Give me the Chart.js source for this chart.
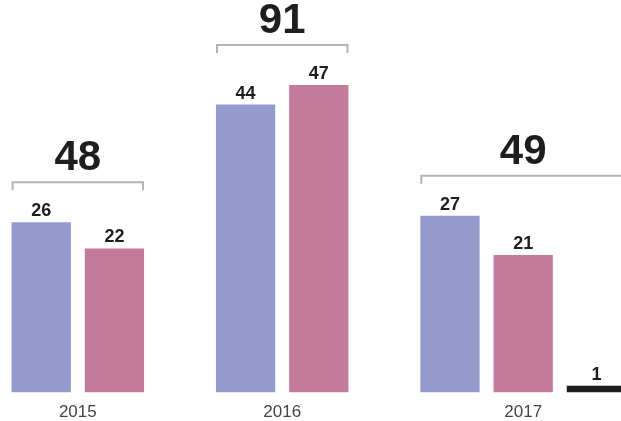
<!DOCTYPE html>
<html>
<head>
<meta charset="utf-8">
<script src="https://cdn.jsdelivr.net/npm/chart.js@4.4.0/dist/chart.umd.min.js"></script>
<style>
  html, body { margin: 0; padding: 0; background: #fff; }
  #wrap { width: 621px; height: 421px; }
</style>
</head>
<body>
<div id="wrap"><canvas id="chart"></canvas></div>
<script>
// data
const years = ['2015', '2016', '2017'];
const blueValues = [26, 44, 27];
const pinkValues = [22, 47, 21];
const blackValues = [null, null, 1];
const totals = [48, 91, 49];

// layout in px: every bar gets its own small x axis, axes laid side by side
const slotWidth = 73.2;
const leftPad = 4.6;
const groupGap = 58;
const chartWidth = 621;

const series = [
    { values: blueValues, color: '#939bcc' },
    { values: pinkValues, color: '#c47b9b' },
    { values: blackValues, color: '#1e1e1e' }
];
const barPercentage = 0.81;

const scales = {
    y: { display: false, min: 0, max: 60 }
};

const hiddenAxis = (labels) => ({
    type: 'category', labels: labels, position: 'bottom', display: false
});

// put axes of one row next to each other, with empty axes in the holes
function addRow(stack, items) {
    let x = 0;
    items.forEach((it, n) => {
        if (it.from > x) {
            scales[stack + 'pad' + n] = Object.assign(hiddenAxis(['']), { stack: stack, stackWeight: it.from - x });
        }
        scales[it.id] = Object.assign(it.axis, { stack: stack, stackWeight: it.to - it.from });
        x = it.to;
    });
    if (x < chartWidth) {
        scales[stack + 'end'] = Object.assign(hiddenAxis(['']), { stack: stack, stackWeight: chartWidth - x });
    }
}

const datasets = [];
const barItems = [];
const yearItems = [];
let x = 0;

years.forEach((year, g) => {
    x += g === 0 ? leftPad : groupGap;
    const start = x;
    series.forEach((s, k) => {
        if (s.values[g] === null) return;
        let from = x, to = x + slotWidth, bp = barPercentage;
        if (to > chartWidth) { // last bar runs off the right edge
            const cut = to - chartWidth;
            from += cut;
            to -= cut;
            bp = barPercentage * slotWidth / (to - from);
        }
        const id = 'b' + g + k;
        barItems.push({ id: id, from: from, to: to, axis: hiddenAxis([year]) });
        datasets.push({
            data: [s.values[g]],
            group: g,
            xAxisID: id,
            backgroundColor: s.color,
            borderWidth: 0,
            grouped: false,
            categoryPercentage: 1,
            barPercentage: bp,
            clip: false
        });
        x += slotWidth;
    });
    const center = (start + x) / 2;
    const half = Math.min((x - start) / 2, chartWidth - center);
    yearItems.push({
        id: 'x' + g,
        from: center - half,
        to: center + half,
        axis: {
            type: 'category',
            labels: [year],
            position: 'bottom',
            offset: true,
            grid: { display: false },
            border: { display: false },
            ticks: {
                color: '#444',
                padding: 3.5,
                font: { family: '"Liberation Sans", Arial, sans-serif', size: 17, lineHeight: 1 }
            }
        }
    });
});

addRow('bars', barItems);
addRow('years', yearItems);

const labelsPlugin = {
    id: 'labelsPlugin',
    afterDatasetsDraw(chart) {
        const ctx = chart.ctx;
        ctx.save();
        ctx.textAlign = 'center';
        ctx.textBaseline = 'alphabetic';
        years.forEach((year, g) => {
            let left = Infinity, right = -Infinity, top = Infinity;
            chart.data.datasets.forEach((ds, i) => {
                if (ds.group !== g) return;
                const bar = chart.getDatasetMeta(i).data[0];
                left = Math.min(left, bar.x - bar.width / 2);
                right = Math.max(right, bar.x + bar.width / 2);
                top = Math.min(top, bar.y);
                ctx.fillStyle = '#1e1e1e';
                ctx.font = 'bold 18px "Liberation Sans", Arial, sans-serif';
                ctx.fillText(ds.data[0], bar.x, bar.y - 6);
            });
            // bracket over the group, total above it
            const y = top - 40;
            ctx.strokeStyle = '#b3b3b3';
            ctx.lineWidth = 2;
            ctx.beginPath();
            ctx.moveTo(left + 1, y + 8);
            ctx.lineTo(left + 1, y);
            ctx.lineTo(right - 1, y);
            ctx.lineTo(right - 1, y + 8);
            ctx.stroke();
            ctx.fillStyle = '#1e1e1e';
            ctx.font = 'bold 42px "Liberation Sans", Arial, sans-serif';
            ctx.fillText(totals[g], (left + right) / 2, y - 12);
        });
        ctx.restore();
    }
};

new Chart(document.getElementById('chart'), {
    type: 'bar',
    data: { datasets: datasets },
    options: {
        responsive: true,
        maintainAspectRatio: false,
        animation: false,
        layout: { padding: { left: 0, right: 0, top: 0, bottom: 2 } },
        scales: scales,
        plugins: {
            legend: { display: false },
            tooltip: { enabled: false }
        }
    },
    plugins: [labelsPlugin]
});
</script>
</body>
</html>
